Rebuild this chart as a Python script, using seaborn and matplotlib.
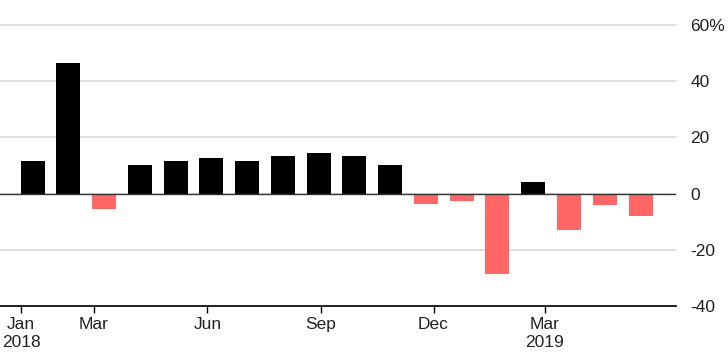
import numpy as np
import pandas as pd
import matplotlib
matplotlib.use("Agg")
import matplotlib.pyplot as plt
import seaborn as sns

# monthly change, Jan 2018 - Jun 2019
months = pd.date_range("2018-01-01", "2019-06-01", freq="MS")
values = [11.7, 46.4, -5.5, 10.0, 11.7, 12.7, 11.7, 13.2, 14.3, 13.2, 10.0,
          -3.6, -2.5, -28.5, 4.2, -13.1, -4.0, -7.8]

tick_dates = pd.to_datetime(["2018-01-01", "2018-03-01", "2018-06-01",
                             "2018-09-01", "2018-12-01", "2019-03-01"])
tick_labels = ["Jan\n2018", "Mar", "Jun", "Sep", "Dec", "Mar\n2019"]
y_ticks = [60, 40, 20, 0, -20, -40]
y_labels = ["60%", "40", "20", "0", "-20", "-40"]

sns.set_theme(style="white")
plt.rcParams['font.family'] = ['Liberation Sans', 'DejaVu Sans']

df = pd.DataFrame({
    "month": months.strftime("%Y-%m"),
    "value": values,
})
df["up"] = df["value"] > 0

fig = plt.figure(figsize=(7.28, 3.6), dpi=100)
ax = fig.add_axes([0, 0.15, 0.928, 0.7806])

sns.barplot(data=df, x="month", y="value", hue="up",
            palette={True: "black", False: "#ff6666"}, saturation=1,
            dodge=False, width=0.67, linewidth=0, legend=False, ax=ax)

# band axis in bar-index units, time ticks laid over it
xmin, xmax = -0.91, 17.98
ax.set_xlim(xmin, xmax)
t_start = pd.Timestamp("2017-12-15")
t_end = pd.Timestamp("2019-06-15")
frac = (tick_dates - t_start) / (t_end - t_start)
tick_pos = xmin + np.asarray(frac) * (xmax - xmin)
ax.set_xticks(tick_pos)
ax.set_xticklabels(tick_labels, linespacing=1.25)

ax.set_ylim(-40, 60)
ax.set_yticks(y_ticks)
ax.set_yticklabels(y_labels)
ax.yaxis.tick_right()

ax.set_xlabel("")
ax.set_ylabel("")

ax.set_axisbelow(True)
ax.grid(axis="y", color="#dddddd", lw=1.3)
for gl in ax.yaxis.get_gridlines():
    gl.set_clip_on(False)
ax.axhline(0, color="#333333", lw=1.0, zorder=3)

for s in ["top", "left", "right"]:
    ax.spines[s].set_visible(False)
ax.spines["bottom"].set_color("black")
ax.spines["bottom"].set_linewidth(1.2)

ax.tick_params(axis="y", length=0, pad=10.5, labelsize=12.5, labelcolor="#222222")
ax.tick_params(axis="x", bottom=True, length=5, width=1, color="black",
               pad=3, labelsize=12.5, labelcolor="#222222")

plt.savefig("out.png", dpi=100)
